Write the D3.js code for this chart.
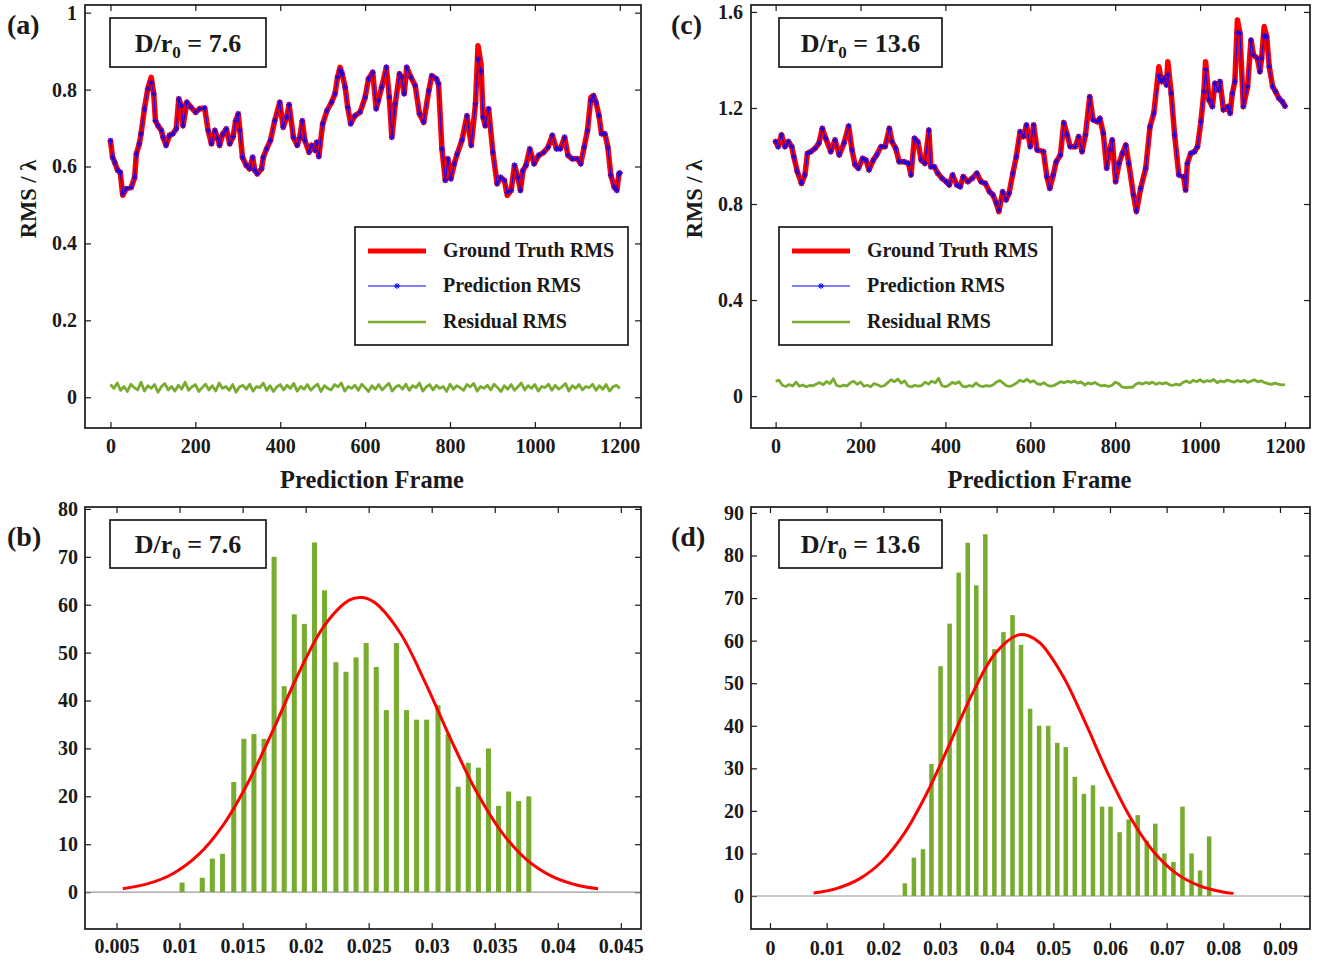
<!DOCTYPE html>
<html lang="en">
<head>
<meta charset="utf-8">
<script src="https://d3js.org/d3.v7.min.js"></script>
<style>
  body { margin: 0; background: #fff; }
  svg text { font-family: "Liberation Serif", "Times New Roman", serif; font-weight: bold; fill: #1a1a1a; }
</style>
</head>
<body>
<script>
// ---------------- data ----------------
// panel (a): D/r0 = 7.6
const framesA = [0,5,10,17,23,29,37,49,57,61,68,72,80,88,96,102,106,112,120,124,131,139,147,155,161,167,171,180,190,201,
  210,222,230,238,246,253,257,265,273,281,289,295,301,305,311,320,328,335,340,346,356,360,368,377,387,399,407,415,421,431,
  440,446,452,458,468,474,482,486,491,500,510,521,529,535,541,546,553,559,566,576,588,600,608,618,626,631,639,650,657,663,
  671,681,686,692,698,708,718,728,738,750,757,768,773,781,789,795,802,810,817,828,840,850,860,866,873,878,883,891,901,911,
  919,928,935,944,952,960,966,972,979,988,998,1009,1021,1031,1041,1051,1060,1070,1078,1088,1100,1108,1116,1124,1132,1138,1144,1151,1157,1165,
  1172,1179,1187,1193,1198,1200];
const truthA = [0.667,0.624,0.611,0.590,0.585,0.525,0.542,0.546,0.572,0.633,0.659,0.685,0.750,0.802,0.832,0.789,0.719,0.706,0.694,0.676,
  0.655,0.681,0.685,0.698,0.776,0.758,0.706,0.767,0.754,0.741,0.750,0.752,0.694,0.659,0.694,0.672,0.655,0.685,0.698,0.659,
  0.678,0.719,0.737,0.694,0.624,0.603,0.594,0.624,0.590,0.581,0.594,0.624,0.646,0.668,0.719,0.767,0.702,0.728,0.761,0.676,
  0.655,0.676,0.719,0.668,0.637,0.655,0.642,0.663,0.626,0.711,0.745,0.767,0.789,0.832,0.858,0.841,0.806,0.754,0.711,0.732,
  0.741,0.780,0.828,0.845,0.750,0.771,0.806,0.858,0.780,0.676,0.763,0.841,0.832,0.789,0.858,0.832,0.810,0.737,0.715,0.797,
  0.836,0.828,0.815,0.646,0.564,0.620,0.568,0.607,0.633,0.668,0.732,0.655,0.763,0.914,0.866,0.728,0.706,0.750,0.637,0.555,
  0.572,0.564,0.525,0.538,0.603,0.572,0.538,0.590,0.603,0.646,0.607,0.629,0.637,0.650,0.681,0.646,0.646,0.676,0.629,0.620,
  0.620,0.607,0.650,0.694,0.780,0.784,0.767,0.732,0.685,0.685,0.650,0.577,0.546,0.538,0.581,0.583];
const predA = [0.667,0.624,0.611,0.590,0.585,0.530,0.542,0.546,0.572,0.633,0.659,0.685,0.750,0.802,0.818,0.789,0.719,0.706,0.694,0.676,
  0.655,0.681,0.685,0.698,0.776,0.758,0.706,0.767,0.754,0.741,0.750,0.752,0.694,0.659,0.694,0.672,0.655,0.685,0.698,0.659,
  0.678,0.719,0.737,0.694,0.624,0.603,0.594,0.624,0.590,0.581,0.594,0.624,0.646,0.668,0.719,0.767,0.702,0.728,0.761,0.676,
  0.655,0.676,0.719,0.668,0.637,0.655,0.642,0.663,0.626,0.711,0.745,0.767,0.789,0.832,0.850,0.841,0.806,0.754,0.711,0.732,
  0.741,0.780,0.828,0.845,0.750,0.771,0.806,0.858,0.780,0.676,0.763,0.841,0.832,0.789,0.858,0.832,0.810,0.737,0.715,0.797,
  0.836,0.828,0.815,0.646,0.564,0.620,0.568,0.607,0.633,0.668,0.732,0.655,0.763,0.880,0.848,0.728,0.706,0.750,0.637,0.555,
  0.572,0.564,0.532,0.538,0.603,0.572,0.538,0.590,0.603,0.646,0.607,0.629,0.637,0.650,0.681,0.646,0.646,0.676,0.629,0.620,
  0.620,0.607,0.650,0.694,0.772,0.784,0.767,0.732,0.685,0.685,0.650,0.577,0.546,0.538,0.581,0.583];

// residual frames, every 8th frame
const resFrames = d3.range(0, 1201, 8);
const resA = [0.033,0.023,0.037,0.018,0.028,0.015,0.034,0.025,0.019,0.039,0.016,0.030,0.023,0.033,0.013,0.027,0.036,0.019,0.028,0.016,
  0.031,0.021,0.039,0.018,0.027,0.033,0.015,0.025,0.034,0.019,0.030,0.016,0.037,0.023,0.028,0.018,0.033,0.013,0.027,0.031,
  0.021,0.034,0.016,0.028,0.025,0.037,0.018,0.030,0.015,0.027,0.033,0.019,0.031,0.023,0.036,0.016,0.028,0.021,0.033,0.018,
  0.027,0.034,0.015,0.030,0.023,0.019,0.033,0.027,0.037,0.016,0.028,0.023,0.031,0.018,0.034,0.025,0.015,0.030,0.021,0.033,
  0.019,0.028,0.036,0.016,0.027,0.031,0.021,0.034,0.018,0.030,0.025,0.037,0.016,0.027,0.033,0.019,0.031,0.023,0.028,0.015,
  0.034,0.021,0.030,0.025,0.018,0.033,0.027,0.036,0.016,0.028,0.023,0.031,0.019,0.034,0.025,0.015,0.030,0.021,0.033,0.018,
  0.027,0.037,0.019,0.030,0.023,0.033,0.016,0.028,0.025,0.034,0.018,0.031,0.021,0.027,0.036,0.016,0.030,0.023,0.033,0.019,
  0.028,0.025,0.034,0.018,0.030,0.021,0.033,0.016,0.027,0.031,0.023];

// panel (c): D/r0 = 13.6
const framesC = [0,6,14,22,30,38,43,51,61,69,75,83,93,102,110,118,130,140,150,161,
  172,180,187,195,205,213,220,230,238,248,258,268,274,283,291,303,313,319,327,335,
  343,352,361,366,374,382,392,402,409,417,427,435,442,453,463,474,484,494,504,512,
  520,526,535,543,550,559,567,576,584,591,600,608,616,631,639,646,654,661,671,679,
  687,694,706,714,722,730,740,748,758,764,772,780,787,793,801,809,817,825,832,843,
  850,860,872,882,891,903,909,915,921,924,932,940,950,961,966,970,978,987,994,1002,
  1009,1013,1021,1029,1035,1043,1047,1055,1065,1071,1076,1082,1088,1094,1102,1112,1120,1126,1135,1141,
  1145,1151,1157,1163,1171,1178,1186,1194,1200];
const truthC = [1.060,1.039,1.088,1.039,1.060,1.039,0.997,0.935,0.886,0.921,1.011,1.018,1.032,1.053,1.115,1.074,1.018,1.067,1.004,1.053,
  1.125,1.025,0.963,0.949,0.990,0.983,0.942,0.983,1.004,1.039,1.039,1.115,1.060,1.032,0.976,0.976,0.969,0.921,1.074,1.060,
  0.983,0.969,1.108,0.955,0.955,0.928,0.907,0.893,0.879,0.921,0.879,0.872,0.914,0.893,0.907,0.928,0.893,0.886,0.851,0.838,
  0.803,0.768,0.851,0.817,0.845,0.928,0.997,1.101,1.081,1.129,1.039,1.129,1.025,1.018,0.914,0.865,0.921,0.976,1.004,1.139,
  1.088,1.039,1.039,1.081,1.018,1.088,1.247,1.150,1.143,1.157,1.094,0.949,1.025,1.067,0.893,0.969,1.011,1.046,0.969,0.838,
  0.768,0.865,0.949,1.122,1.178,1.372,1.310,1.324,1.296,1.393,1.261,1.088,0.921,0.914,0.858,0.969,1.011,1.018,1.039,1.143,
  1.268,1.393,1.233,1.206,1.303,1.275,1.310,1.192,1.206,1.178,1.261,1.310,1.567,1.511,1.206,1.289,1.483,1.421,1.407,1.351,
  1.407,1.539,1.497,1.372,1.289,1.268,1.240,1.226,1.208];
const predC = [1.060,1.039,1.088,1.039,1.060,1.039,0.997,0.935,0.886,0.921,1.011,1.018,1.032,1.053,1.115,1.074,1.018,1.067,1.004,1.053,
  1.125,1.025,0.963,0.949,0.990,0.983,0.942,0.983,1.004,1.039,1.039,1.115,1.060,1.032,0.976,0.976,0.969,0.921,1.074,1.060,
  0.983,0.969,1.108,0.955,0.955,0.928,0.907,0.893,0.879,0.921,0.879,0.872,0.914,0.893,0.907,0.928,0.893,0.886,0.851,0.838,
  0.803,0.775,0.851,0.817,0.845,0.928,0.997,1.101,1.081,1.129,1.039,1.129,1.025,1.018,0.914,0.865,0.921,0.976,1.004,1.139,
  1.088,1.039,1.039,1.081,1.018,1.088,1.247,1.150,1.143,1.157,1.094,0.949,1.025,1.067,0.893,0.969,1.011,1.046,0.969,0.838,
  0.772,0.865,0.949,1.122,1.178,1.335,1.310,1.324,1.296,1.340,1.261,1.088,0.921,0.914,0.858,0.969,1.011,1.018,1.039,1.143,
  1.268,1.360,1.233,1.206,1.303,1.275,1.310,1.192,1.206,1.178,1.261,1.310,1.515,1.511,1.206,1.289,1.483,1.421,1.407,1.351,
  1.407,1.500,1.497,1.372,1.289,1.268,1.240,1.226,1.208];
const resC = [0.062,0.066,0.045,0.040,0.048,0.042,0.058,0.041,0.046,0.039,0.044,0.043,0.050,0.056,0.047,0.061,0.052,0.072,0.044,0.040,
  0.046,0.042,0.055,0.062,0.049,0.058,0.041,0.045,0.039,0.052,0.047,0.040,0.043,0.056,0.068,0.060,0.071,0.054,0.063,0.042,
  0.038,0.045,0.041,0.044,0.058,0.050,0.062,0.055,0.074,0.043,0.039,0.045,0.057,0.052,0.060,0.041,0.038,0.044,0.040,0.055,
  0.043,0.039,0.044,0.041,0.046,0.058,0.065,0.054,0.043,0.040,0.046,0.055,0.066,0.060,0.070,0.058,0.064,0.052,0.048,0.056,
  0.045,0.041,0.044,0.052,0.060,0.055,0.062,0.057,0.063,0.054,0.059,0.046,0.055,0.050,0.057,0.048,0.042,0.045,0.040,0.044,
  0.058,0.052,0.038,0.035,0.037,0.036,0.048,0.055,0.050,0.057,0.052,0.058,0.049,0.055,0.051,0.056,0.047,0.045,0.050,0.046,
  0.057,0.063,0.055,0.066,0.060,0.068,0.058,0.064,0.061,0.069,0.056,0.063,0.059,0.067,0.062,0.058,0.065,0.060,0.066,0.057,
  0.062,0.068,0.059,0.064,0.056,0.052,0.049,0.054,0.050,0.047,0.048];

// panel (b): residual histogram, D/r0 = 7.6
const binsB = [0.0102,0.0110,0.0118,0.0126,0.0134,0.0143,0.0151,0.0159,0.0167,0.0175,0.0183,0.0191,0.0199,0.0207,0.0215,0.0224,0.0232,0.0240,
  0.0248,0.0256,0.0264,0.0272,0.0280,0.0288,0.0296,0.0305,0.0313,0.0321,0.0329,0.0337,0.0345,0.0353,0.0361,0.0369,0.0377];
const countsB = [2,0,3,7,8,23,32,33,32,70,43,58,56,73,63,48,46,49,52,47,38,52,38,36,36,39,33,22,27,26,30,18,21,19,20];
const fitBx = [0.0055,0.0075,0.0095,0.0115,0.0135,0.0155,0.0175,0.0195,0.0215,0.0235,0.0245,0.0255,0.0275,0.0295,0.0315,0.0335,0.0355,0.0375,0.0395,0.0415,0.0432];
const fitBy = [0.72,1.76,3.90,7.81,14.15,23.2,34.3,46.0,55.7,61.0,61.5,60.4,54.1,43.7,32.0,21.2,12.7,6.85,3.35,1.48,0.68];

// panel (d): residual histogram, D/r0 = 13.6
const binsD = [0.0238,0.0254,0.0270,0.0285,0.0301,0.0317,0.0333,0.0349,0.0364,0.0380,0.0396,0.0412,0.0428,0.0443,0.0459,0.0475,0.0491,0.0507,
  0.0522,0.0538,0.0554,0.0570,0.0586,0.0601,0.0617,0.0633,0.0649,0.0665,0.0680,0.0696,0.0712,0.0728,0.0744,0.0759,0.0775];
const countsD = [3,9,11,31,54,64,76,83,73,85,58,62,66,59,44,40,40,36,35,28,24,26,21,21,15,18,19,13,17,10,8,21,10,6,14];
const fitDx = [0.0077,0.0117,0.0157,0.0197,0.0237,0.0277,0.0317,0.0357,0.0397,0.0437,0.0457,0.0477,0.0517,0.0557,0.0597,0.0637,0.0677,0.0717,0.0757,0.0797,0.0818];
const fitDy = [0.70,1.75,3.96,8.04,14.7,24.2,35.7,47.5,56.9,61.3,61.1,59.4,51.7,40.6,28.6,18.2,10.4,5.32,2.46,1.02,0.62];

const frameTicks = [0,200,400,600,800,1000,1200];
const legendLabels = ["Ground Truth RMS", "Prediction RMS", "Residual RMS"];

// ---------------- drawing ----------------
const red = "#ff0000", blue = "#0000ff", green = "#77ac30", ink = "#1a1a1a";

const svg = d3.select("body").append("svg")
  .attr("width", 1332).attr("height", 964);

const star = "M-3,0H3M0,-3V3M-2.2,-2.2L2.2,2.2M-2.2,2.2L2.2,-2.2";

function axes(g, box, x, y, xTicks, yTicks, padX, padY) {
  const style = sel => {
    sel.select(".domain").remove();
    sel.attr("font-size", null).attr("font-family", null);
    sel.selectAll(".tick line").attr("stroke", ink).attr("stroke-width", 1.2);
    sel.selectAll("text").style("font-size", "20px");
  };
  g.append("g").attr("transform", `translate(0,${box.y1})`)
    .call(d3.axisBottom(x).tickValues(xTicks).tickFormat(String).tickSize(-6).tickSizeOuter(0).tickPadding(padX)).call(style);
  g.append("g").attr("transform", `translate(0,${box.y0})`)
    .call(d3.axisTop(x).tickValues(xTicks).tickFormat("").tickSize(-6).tickSizeOuter(0)).call(style);
  g.append("g").attr("transform", `translate(${box.x0},0)`)
    .call(d3.axisLeft(y).tickValues(yTicks).tickFormat(String).tickSize(-6).tickSizeOuter(0).tickPadding(padY)).call(style);
  g.append("g").attr("transform", `translate(${box.x1},0)`)
    .call(d3.axisRight(y).tickValues(yTicks).tickFormat("").tickSize(-6).tickSizeOuter(0)).call(style);
}

function frameBox(g, box) {
  g.append("rect").attr("x", box.x0).attr("y", box.y0)
    .attr("width", box.x1 - box.x0).attr("height", box.y1 - box.y0)
    .attr("fill", "none").attr("stroke", ink).attr("stroke-width", 1.7);
}

function tag(g, x, y, w, h, value) {
  g.append("rect").attr("x", x).attr("y", y).attr("width", w).attr("height", h)
    .attr("fill", "#fff").attr("stroke", ink).attr("stroke-width", 1.7);
  const t = g.append("text").attr("x", x + w / 2).attr("y", y + h / 2 + 9)
    .attr("text-anchor", "middle").style("font-size", "26px");
  t.append("tspan").text("D/r");
  t.append("tspan").attr("dy", 6).style("font-size", "17px").text("0");
  t.append("tspan").attr("dy", -6).text(" = " + value);
}

function panelLabel(x, y, s) {
  svg.append("text").attr("x", x).attr("y", y).style("font-size", "28px").text(s);
}

function linePanel(p) {
  const g = svg.append("g");
  const x = d3.scaleLinear().domain(p.xDom).range([p.box.x0, p.box.x1]);
  const y = d3.scaleLinear().domain(p.yDom).range([p.box.y1, p.box.y0]);
  axes(g, p.box, x, y, frameTicks, p.yTicks, 11, 8);

  const line = d3.line().x(d => x(d[0])).y(d => y(d[1]));
  const truth = d3.zip(p.frames, p.truth);
  const pred = d3.zip(p.frames, p.pred);
  const res = d3.zip(resFrames, p.res);

  g.append("path").datum(res).attr("d", line)
    .attr("fill", "none").attr("stroke", green).attr("stroke-width", 2.8).attr("stroke-linejoin", "round");
  g.append("path").datum(truth).attr("d", line)
    .attr("fill", "none").attr("stroke", red).attr("stroke-width", 5.5).attr("stroke-linejoin", "round").attr("stroke-linecap", "round");
  g.append("path").datum(pred).attr("d", line)
    .attr("fill", "none").attr("stroke", blue).attr("stroke-width", 1);
  g.append("g").selectAll("path").data(pred).join("path")
    .attr("transform", d => `translate(${x(d[0])},${y(d[1])})`)
    .attr("d", star).attr("stroke", blue).attr("stroke-width", 0.9).attr("fill", "none");

  frameBox(g, p.box);

  // legend
  const L = p.legend;
  g.append("rect").attr("x", L.x).attr("y", L.y).attr("width", 273).attr("height", 118)
    .attr("fill", "#fff").attr("stroke", ink).attr("stroke-width", 1.7);
  const rows = [24, 59, 95];
  const styles = [
    {c: red, w: 5}, {c: blue, w: 1}, {c: green, w: 2.6}
  ];
  legendLabels.forEach((lab, i) => {
    const ry = L.y + rows[i];
    g.append("line").attr("x1", L.x + 13).attr("x2", L.x + 71).attr("y1", ry).attr("y2", ry)
      .attr("stroke", styles[i].c).attr("stroke-width", styles[i].w);
    if (i === 1) g.append("path").attr("transform", `translate(${L.x + 42},${ry})`)
      .attr("d", star).attr("stroke", blue).attr("stroke-width", 1).attr("fill", "none");
    g.append("text").attr("x", L.x + 88).attr("y", ry + 6).style("font-size", "20px").text(lab);
  });

  tag(g, p.tag[0], 18, p.tag[1], 49, p.label);

  g.append("text").attr("x", (p.box.x0 + p.box.x1) / 2 + 9).attr("y", 488)
    .attr("text-anchor", "middle").style("font-size", "24.5px").text("Prediction Frame");
  g.append("text").attr("transform", `translate(${p.box.x0 - 49},199) rotate(-90)`)
    .attr("text-anchor", "middle").style("font-size", "22.5px").text("RMS / λ");
}

function histPanel(p) {
  const g = svg.append("g");
  const x = d3.scaleLinear().domain(p.xDom).range([p.box.x0, p.box.x1]);
  const y = d3.scaleLinear().domain(p.yDom).range([p.box.y1, p.box.y0]);
  axes(g, p.box, x, y, p.xTicks, p.yTicks, p.padX, p.padY);

  g.append("line").attr("x1", p.box.x0).attr("x2", p.box.x1).attr("y1", y(0)).attr("y2", y(0))
    .attr("stroke", "#9a9a9a").attr("stroke-width", 1.2);

  const bw = (x(p.bins[1]) - x(p.bins[0])) * 0.5;
  g.append("g").selectAll("rect").data(d3.zip(p.bins, p.counts)).join("rect")
    .attr("x", d => x(d[0]) - bw / 2).attr("width", bw)
    .attr("y", d => y(d[1])).attr("height", d => y(0) - y(d[1]))
    .attr("fill", green);

  g.append("path").datum(d3.zip(p.fitX, p.fitY))
    .attr("d", d3.line().x(d => x(d[0])).y(d => y(d[1])).curve(d3.curveCatmullRom))
    .attr("fill", "none").attr("stroke", red).attr("stroke-width", 3);

  frameBox(g, p.box);
  tag(g, p.tag[0], 520, p.tag[1], 48, p.label);
}

linePanel({
  box: {x0: 85, x1: 641, y0: 5, y1: 428},
  xDom: [-60, 1250], yDom: [-0.08, 1.02], yTicks: [0, 0.2, 0.4, 0.6, 0.8, 1],
  frames: framesA, truth: truthA, pred: predA, res: resA,
  legend: {x: 355, y: 227}, tag: [110, 156], label: "7.6"
});
linePanel({
  box: {x0: 751, x1: 1310, y0: 5, y1: 428},
  xDom: [-58, 1259], yDom: [-0.133, 1.629], yTicks: [0, 0.4, 0.8, 1.2, 1.6],
  frames: framesC, truth: truthC, pred: predC, res: resC,
  legend: {x: 779, y: 227}, tag: [779, 163], label: "13.6"
});
histPanel({
  box: {x0: 85, x1: 641, y0: 507, y1: 929},
  xDom: [0.0025, 0.0466], yDom: [-7.7, 80.4],
  xTicks: [0.005, 0.01, 0.015, 0.02, 0.025, 0.03, 0.035, 0.04, 0.045],
  yTicks: [0, 10, 20, 30, 40, 50, 60, 70, 80], padX: 10, padY: 7,
  bins: binsB, counts: countsB, fitX: fitBx, fitY: fitBy, tag: [110, 156], label: "7.6"
});
histPanel({
  box: {x0: 751, x1: 1310, y0: 507, y1: 929},
  xDom: [-0.00335, 0.0953], yDom: [-7.75, 91.4],
  xTicks: [0, 0.01, 0.02, 0.03, 0.04, 0.05, 0.06, 0.07, 0.08, 0.09],
  yTicks: [0, 10, 20, 30, 40, 50, 60, 70, 80, 90], padX: 12, padY: 7,
  bins: binsD, counts: countsD, fitX: fitDx, fitY: fitDy, tag: [779, 163], label: "13.6"
});

panelLabel(7, 34, "(a)");
panelLabel(7, 546, "(b)");
panelLabel(671, 34, "(c)");
panelLabel(671, 546, "(d)");
</script>
</body>
</html>
